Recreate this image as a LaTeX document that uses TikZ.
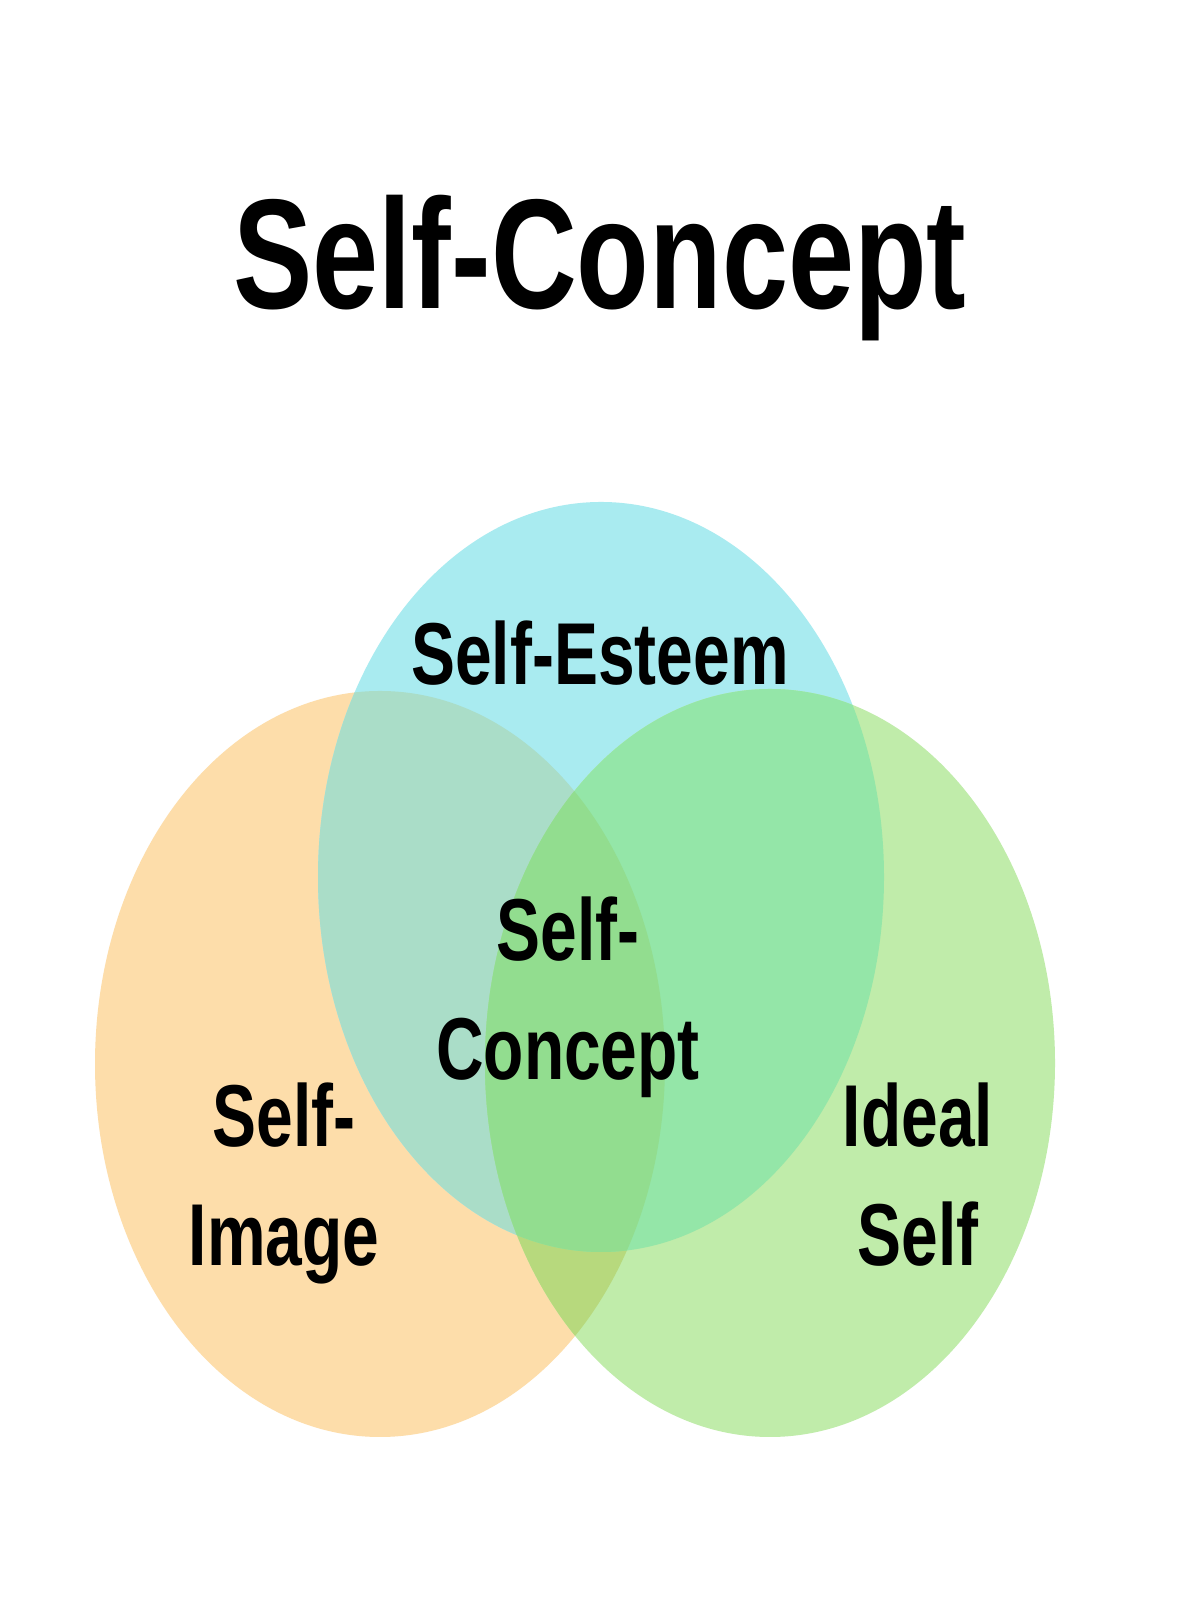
\documentclass[tikz,border=0pt]{standalone}
\usepackage{fontspec}
\newfontfamily\titlefont[FakeStretch=0.76]{Liberation Sans Bold}
\newfontfamily\labelfont[FakeStretch=0.75]{Liberation Sans Bold}
\definecolor{peach}{HTML}{FDDDAA}
\definecolor{sky}{HTML}{A9EBF0}
\definecolor{mint}{HTML}{C0ECAA}
\definecolor{peachsky}{HTML}{AADDC8}
\definecolor{skymint}{HTML}{94E6A8}
\definecolor{peachmint}{HTML}{B7D97D}
\definecolor{allthree}{HTML}{92DD8F}
\def\imagepath{(3.80,5.36) ellipse [x radius=2.85, y radius=3.73]}
\def\esteempath{(6.01,7.23) ellipse [x radius=2.83, y radius=3.75]}
\def\idealpath{(7.70,5.37) ellipse [x radius=2.85, y radius=3.74]}
\begin{document}
\begin{tikzpicture}[
  lbl/.style={font=\labelfont\fontsize{25}{34}\selectfont, align=center, anchor=base}
]
\useasboundingbox (0,0) rectangle (12,16);
\fill[white] (0,0) rectangle (12,16);
\fill[peach] \imagepath;
\fill[sky] \esteempath;
\fill[mint] \idealpath;
\begin{scope}
  \clip \imagepath;
  \fill[peachsky] \esteempath;
  \fill[peachmint] \idealpath;
\end{scope}
\begin{scope}
  \clip \esteempath;
  \fill[skymint] \idealpath;
\end{scope}
\begin{scope}
  \clip \imagepath;
  \clip \esteempath;
  \fill[allthree] \idealpath;
\end{scope}
\node[font=\titlefont\fontsize{44.5}{50}\selectfont, anchor=base] (title) at (6.00,12.91) {Self-Concept};
\node[lbl] (esteem) at (6.00,9.15) {Self-Esteem};
\node[lbl] (concept) at (5.68,5.20) {Self-\\Concept};
\node[lbl] (image) at (2.84,3.34) {Self-\\Image};
\node[lbl] (ideal) at (9.18,3.34) {Ideal\\Self};
\end{tikzpicture}
\end{document}
